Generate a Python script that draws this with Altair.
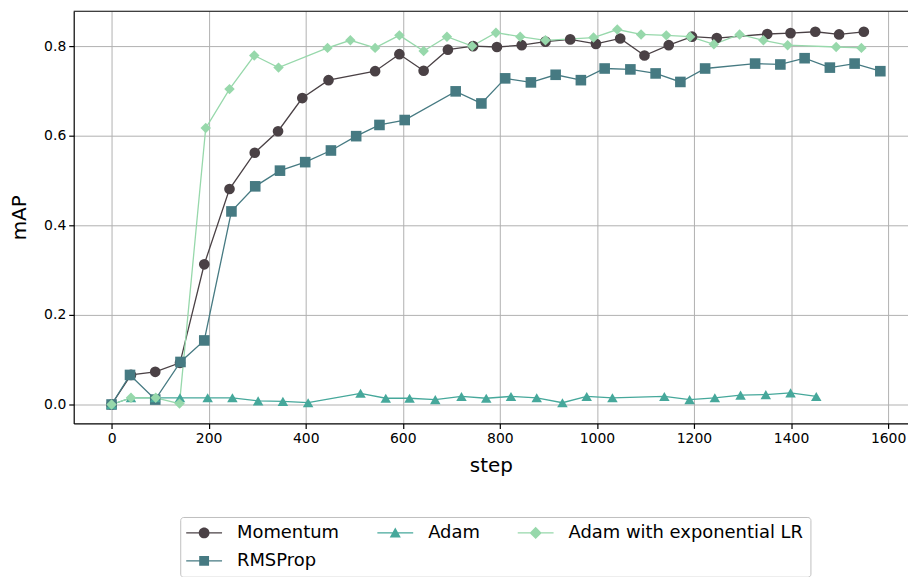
import altair as alt
import pandas as pd

series_names = ["Momentum", "RMSProp", "Adam", "Adam with exponential LR"]
series_colors = ["#4a4145", "#467a82", "#46a89b", "#97d8ab"]
series_shapes = ["circle", "square", "triangle-up", "diamond"]
series_sizes = [115, 110, 100, 150]

legend_order = ["Momentum", "Adam", "Adam with exponential LR", "RMSProp"]
legend_colors = ["#4a4145", "#46a89b", "#97d8ab", "#467a82"]
LINE = "M-2,-0.07H2V0.07H-2Z"
legend_paths = [
    LINE + "M-0.6,0A0.6,0.6,0,1,1,0.6,0A0.6,0.6,0,1,1,-0.6,0Z",
    LINE + "M0,-0.6L0.62,0.5L-0.62,0.5Z",
    LINE + "M0,-0.68L0.68,0L0,0.68L-0.68,0Z",
    LINE + "M-0.55,-0.55H0.55V0.55H-0.55Z",
]

x_ticks = [0, 200, 400, 600, 800, 1000, 1200, 1400, 1600]
y_ticks = [0.0, 0.2, 0.4, 0.6, 0.8]

momentum_steps = [0, 40, 90, 141, 191, 243, 295, 343, 393, 447, 543, 593, 643, 693, 745,
                  794, 845, 894, 945, 998, 1048, 1098, 1148, 1196, 1247, 1351, 1399, 1450, 1499, 1550]
momentum_map = [0.0, 0.066, 0.073, 0.093, 0.313, 0.481, 0.562, 0.610, 0.684, 0.724, 0.744, 0.782,
                0.745, 0.792, 0.800, 0.798, 0.802, 0.810, 0.815, 0.805, 0.817, 0.779, 0.802, 0.821,
                0.818, 0.827, 0.829, 0.832, 0.826, 0.832]

rmsprop_steps = [0, 38, 90, 142, 191, 247, 296, 347, 399, 452, 504, 552, 604, 709, 762, 811, 864,
                 915, 967, 1016, 1069, 1121, 1172, 1223, 1326, 1378, 1428, 1480, 1531, 1584]
rmsprop_map = [0.0, 0.066, 0.011, 0.095, 0.143, 0.431, 0.487, 0.522, 0.541, 0.567, 0.599, 0.624,
               0.635, 0.699, 0.672, 0.728, 0.719, 0.736, 0.724, 0.750, 0.748, 0.739, 0.720, 0.750,
               0.761, 0.759, 0.773, 0.752, 0.761, 0.744]

adam_steps = [0, 40, 90, 141, 198, 249, 302, 353, 405, 513, 565, 614, 667, 721, 772, 823, 876,
              929, 979, 1032, 1139, 1191, 1243, 1296, 1348, 1399, 1452]
adam_map = [0.0, 0.015, 0.015, 0.015, 0.015, 0.015, 0.008, 0.007, 0.004, 0.025, 0.014, 0.014,
            0.011, 0.018, 0.014, 0.018, 0.015, 0.004, 0.018, 0.015, 0.018, 0.011, 0.015, 0.021,
            0.022, 0.026, 0.018]

adamexp_steps = [0, 40, 91, 140, 194, 243, 294, 344, 445, 492, 543, 593, 643, 691, 743, 792, 842,
                 894, 993, 1042, 1091, 1143, 1192, 1241, 1294, 1343, 1393, 1493, 1545]
adamexp_map = [0.0, 0.015, 0.015, 0.002, 0.617, 0.704, 0.779, 0.752, 0.796, 0.813, 0.796, 0.824,
               0.789, 0.821, 0.800, 0.830, 0.821, 0.813, 0.819, 0.837, 0.826, 0.824, 0.821, 0.804,
               0.826, 0.813, 0.802, 0.798, 0.796]

rows = []
for name, steps, vals in [
    ("Momentum", momentum_steps, momentum_map),
    ("RMSProp", rmsprop_steps, rmsprop_map),
    ("Adam", adam_steps, adam_map),
    ("Adam with exponential LR", adamexp_steps, adamexp_map),
]:
    for s, v in zip(steps, vals):
        rows.append({"series": name, "step": s, "mAP": v})
df = pd.DataFrame(rows)

# helper rows for the legend layer (placed outside the plot and clipped)
legend_df = pd.DataFrame({"series": legend_order, "step": [0] * 4, "mAP": [-1.0] * 4})

x_enc = alt.X("step:Q",
              scale=alt.Scale(domain=[-78, 1641], nice=False, zero=False),
              axis=alt.Axis(values=x_ticks, format="d", title="step", titlePadding=10))
y_enc = alt.Y("mAP:Q",
              scale=alt.Scale(domain=[-0.0422, 0.8778], nice=False, zero=False),
              axis=alt.Axis(values=y_ticks, format=".1f", title="mAP", titlePadding=14))

color_main = alt.Color("series:N", scale=alt.Scale(domain=series_names, range=series_colors), legend=None)

lines = alt.Chart(df).mark_line(strokeWidth=1.3).encode(
    x=x_enc, y=y_enc, color=color_main, detail="series:N")

points = alt.Chart(df).mark_point(filled=True, opacity=1).encode(
    x=x_enc, y=y_enc, color=color_main,
    shape=alt.Shape("series:N", scale=alt.Scale(domain=series_names, range=series_shapes), legend=None),
    size=alt.Size("series:N", scale=alt.Scale(domain=series_names, range=series_sizes), legend=None),
)

leg_props = dict(
    orient="none", legendX=107, legendY=508, columns=3, direction="horizontal", title=None,
    symbolSize=324, symbolOffset=8, symbolStrokeWidth=0, labelOffset=24,
    labelFontSize=18, labelFont="DejaVu Sans", labelColor="black", labelLimit=500,
    columnPadding=38, rowPadding=10, padding=7,
    strokeColor="#c0c0c0", fillColor="white", cornerRadius=3,
)

legend_layer = alt.Chart(legend_df).mark_point(filled=True, opacity=1, clip=True).encode(
    x=x_enc, y=y_enc,
    color=alt.Color("series:N", scale=alt.Scale(domain=legend_order, range=legend_colors),
                    legend=alt.Legend(**leg_props)),
    shape=alt.Shape("series:N", scale=alt.Scale(domain=legend_order, range=legend_paths),
                    legend=alt.Legend(**leg_props)),
)

top_rule = alt.Chart(alt.Data(values=[{}])).mark_rule(color="black", strokeWidth=1.2).encode(
    y=alt.value(0))

chart = alt.layer(lines, points, legend_layer, top_rule).resolve_scale(
    color="independent", shape="independent", size="independent"
).properties(
    width=838, height=414,
    autosize=alt.AutoSizeParams(type="none"),
    padding={"left": 66, "top": 2, "right": 0, "bottom": 153},
).configure_view(stroke=None).configure_axis(
    domainColor="black", tickColor="black", domainWidth=1.2, tickWidth=1.2, tickSize=5,
    labelFont="DejaVu Sans", titleFont="DejaVu Sans", labelFontSize=14, titleFontSize=20,
    titleFontWeight="normal", labelColor="black", titleColor="black",
    gridColor="#b0b0b0", gridWidth=1, labelPadding=3,
)

chart.save("out.html", embed_options={"renderer": "svg", "actions": False})
